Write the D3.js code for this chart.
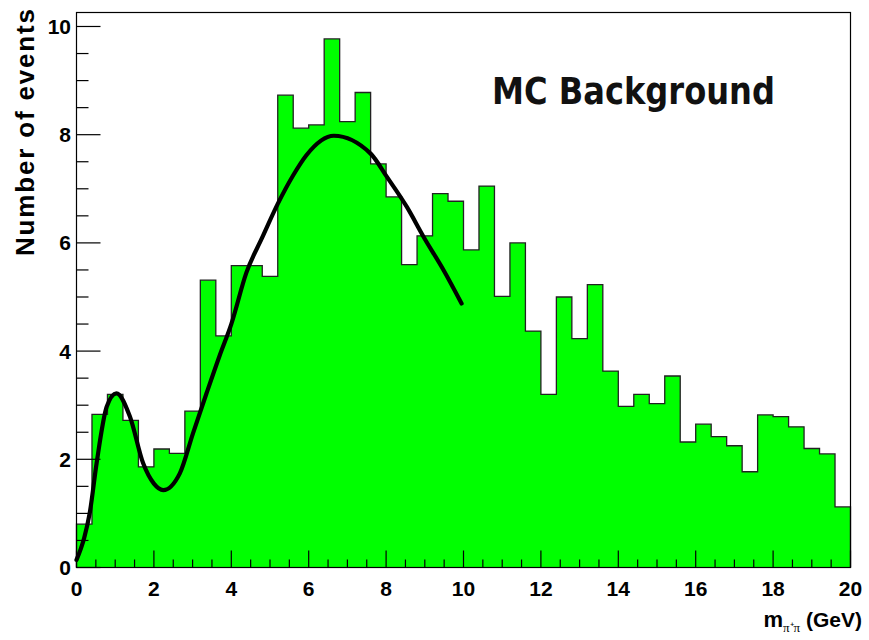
<!DOCTYPE html>
<html>
<head>
<meta charset="utf-8">
<script src="https://cdn.jsdelivr.net/npm/d3@7"></script>
<style>
  html, body { margin: 0; padding: 0; background: #fff; }
  svg { display: block; }
</style>
</head>
<body>
<svg id="chart" width="869" height="640"></svg>
<script>
// Histogram: 50 bins of 0.4 GeV between 0 and 20 GeV
const xMin = 0;
const xMax = 20;
const binWidth = 0.4;
const binCounts = [
  0.80, 2.83, 3.20, 2.72, 1.86, 2.19, 2.11, 2.89, 5.31, 4.28,
  5.58, 5.58, 5.38, 8.73, 8.12, 8.18, 9.77, 8.24, 8.78, 7.46,
  6.85, 5.60, 6.13, 6.91, 6.77, 5.87, 7.05, 5.01, 6.00, 4.37,
  3.20, 5.00, 4.23, 5.23, 3.63, 2.98, 3.20, 3.03, 3.54, 2.32,
  2.65, 2.42, 2.25, 1.77, 2.82, 2.79, 2.60, 2.20, 2.10, 1.12
];

// Fitted curve, sampled over 0–10 GeV
const fitX = [0.00, 0.20, 0.34, 0.52, 0.78, 1.03, 1.38, 1.72, 2.00, 2.24, 2.67,
              3.01, 3.36, 3.70, 4.00, 4.39, 4.80, 5.20, 5.60, 5.94, 6.65,
              7.60, 8.03, 8.54, 8.97, 9.49, 9.95];
const fitY = [0.14, 0.55, 1.00, 1.93, 2.97, 3.22, 2.79, 1.93, 1.55, 1.43, 1.74,
              2.48, 3.22, 3.92, 4.50, 5.45, 6.10, 6.72, 7.25, 7.62, 7.98,
              7.65, 7.21, 6.66, 6.11, 5.49, 4.88];

// Axis ticks
const xMajorTicks = [0, 2, 4, 6, 8, 10, 12, 14, 16, 18, 20];
const yMajorTicks = [0, 2, 4, 6, 8, 10];

const titleText = "MC Background";
const yTitle = "Number of events";

const svg = d3.select("#chart");
const frame = { left: 76.5, right: 850.5, top: 12.5, bottom: 567.5 };

const x = d3.scaleLinear().domain([xMin, xMax]).range([frame.left, frame.right]);
const y = d3.scaleLinear().domain([0, 1.05 * d3.max(binCounts)]).range([frame.bottom, frame.top]);

// Step points: left edge of every bin, closed at the upper edge of the range
const stepPts = binCounts.map((v, i) => [xMin + i * binWidth, v]);
stepPts.push([xMax, binCounts[binCounts.length - 1]]);

// Filled histogram as one area (no seams between bins)
svg.append("path")
  .attr("d", d3.area()
    .x(p => x(p[0])).y0(y(0)).y1(p => y(p[1]))
    .curve(d3.curveStepAfter)(stepPts))
  .attr("fill", "#00ff00");

// Step outline, dropping to zero at both ends
const outline = [[xMin, 0], ...stepPts, [xMax, 0]];
svg.append("path")
  .attr("d", d3.line().x(p => x(p[0])).y(p => y(p[1])).curve(d3.curveStepAfter)(outline))
  .attr("fill", "none")
  .attr("stroke", "#222")
  .attr("stroke-width", 1.3);

// Fit curve
svg.append("path")
  .attr("d", d3.line().x(p => x(p[0])).y(p => y(p[1])).curve(d3.curveMonotoneX)(fitX.map((v, i) => [v, fitY[i]])))
  .attr("fill", "none")
  .attr("stroke", "#000")
  .attr("stroke-width", 4.2)
  .attr("stroke-linecap", "round")
  .attr("stroke-linejoin", "round");

// Frame
svg.append("rect")
  .attr("x", frame.left).attr("y", frame.top)
  .attr("width", frame.right - frame.left).attr("height", frame.bottom - frame.top)
  .attr("fill", "none").attr("stroke", "#000").attr("stroke-width", 1.2);

// X axis (ticks pointing up, minor every 0.5)
const xAxis = svg.append("g");
const xMinor = d3.range(0, 41).map(i => i * 0.5);
xAxis.selectAll("line").data(xMinor).join("line")
  .attr("x1", d => x(d)).attr("x2", d => x(d))
  .attr("y1", frame.bottom)
  .attr("y2", d => frame.bottom - (d % 2 === 0 ? 17 : 8))
  .attr("stroke", "#000").attr("stroke-width", 1.2);
xAxis.selectAll("text").data(xMajorTicks).join("text")
  .attr("x", d => x(d)).attr("y", 596)
  .attr("text-anchor", "middle")
  .attr("font-family", "'Liberation Sans', Arial, sans-serif")
  .attr("font-weight", "bold").attr("font-size", 21)
  .text(d => d);

// Y axis (ticks pointing right, minor every 0.5)
const yAxis = svg.append("g");
const yMinor = d3.range(0, 21).map(i => i * 0.5);
yAxis.selectAll("line").data(yMinor).join("line")
  .attr("y1", d => y(d)).attr("y2", d => y(d))
  .attr("x1", frame.left)
  .attr("x2", d => frame.left + (d % 2 === 0 ? 24 : 12))
  .attr("stroke", "#000").attr("stroke-width", 1.2);
yAxis.selectAll("text").data(yMajorTicks).join("text")
  .attr("x", 71).attr("y", d => y(d) + 7.5)
  .attr("text-anchor", "end")
  .attr("font-family", "'Liberation Sans', Arial, sans-serif")
  .attr("font-weight", "bold").attr("font-size", 21)
  .text(d => d);

// Y title
svg.append("text")
  .attr("transform", "translate(34,256) rotate(-90)")
  .attr("font-family", "'Liberation Sans', Arial, sans-serif")
  .attr("font-weight", "bold").attr("font-size", 26)
  .attr("textLength", 247).attr("lengthAdjust", "spacing")
  .text(yTitle);

// X title: m_{ππ} (GeV)
const xt = svg.append("text")
  .attr("x", 862).attr("y", 627)
  .attr("text-anchor", "end")
  .attr("font-family", "'Liberation Sans', Arial, sans-serif")
  .attr("font-weight", "bold").attr("font-size", 21);
xt.append("tspan").attr("font-size", 22).text("m");
xt.append("tspan").attr("font-size", 13).attr("font-weight", "normal")
  .attr("font-family", "'Liberation Serif', serif").attr("dy", 5).text("π⁺π");
xt.append("tspan").attr("dy", -5).text(" (GeV)");

// Label inside the frame
svg.append("text")
  .attr("x", 492).attr("y", 104)
  .attr("font-family", "'DejaVu Sans Condensed', 'DejaVu Sans', sans-serif")
  .attr("font-weight", "bold").attr("font-size", 38)
  .attr("textLength", 283).attr("lengthAdjust", "spacingAndGlyphs")
  .attr("fill", "#111")
  .text(titleText);
</script>
</body>
</html>
